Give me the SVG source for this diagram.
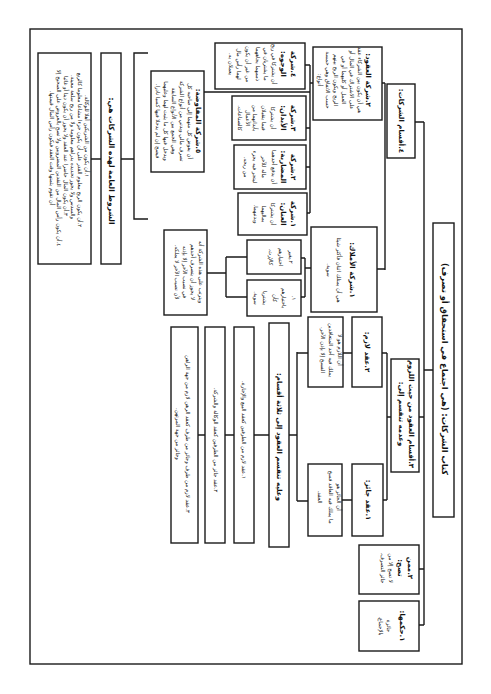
<svg xmlns="http://www.w3.org/2000/svg" width="491" height="694" viewBox="0 0 491 694">
<style>
.b{fill:#fff;stroke:#1a1a1a;stroke-width:1.4}
.c{fill:none;stroke:#1a1a1a;stroke-width:1.4}
text{font-family:"DejaVu Sans","Noto Sans",sans-serif;fill:#111;direction:rtl;text-anchor:middle}
.t{font-size:5.4px}
.h{font-size:7px;font-weight:bold}
.H{font-size:8.3px;font-weight:bold}
</style>
<rect x="0" y="0" width="491" height="694" fill="#fff"/>
<rect x="30" y="29" width="432" height="635" fill="none" stroke="#1a1a1a" stroke-width="1.4"/>

<g id="connectors">
<path class="c" d="M424,122V625M424,370H433M415,122H424M419,417H424M419,569H424M419,625H424"/>
<path class="c" d="M387,417H391M387,353V500M382,353H387M383,500H387M343,353H352M342,500H352"/>
<path class="c" d="M297,352V501M297,353H308M297,501H308M289,435H297M254,435H269M225,435H234M198,435H205"/>
<path class="c" d="M385,83V270M382,83H385M377,269H385"/>
<path class="c" d="M310,65V213M310,83H313M305,65H310M306,128H310M306,167H310M307,213H310M204,92H310"/>
<path class="c" d="M148,53H134V219H148M121,159H134M91,159H101"/>
<path class="c" d="M305,268H311M305,258V297M301,258H305M301,297H305M226,257V297M226,257H247M226,297H247M207,273H226"/>
</g>

<g id="n-title"><rect class="b" x="433" y="223" width="21" height="294"/>
<text class="H" transform="translate(441.5,369) rotate(90)">كتاب الشركات: (هي اجتماع في استحقاق أو تصرف)</text></g>

<g id="n-aqsam-sharikat"><rect class="b" x="387" y="84" width="28" height="74"/>
<text class="h" transform="translate(399,121) rotate(90)">٤.أقسام الشركات:</text></g>

<g id="n-aqsam-uqud"><rect class="b" x="391" y="359" width="28" height="113"/>
<text class="h" transform="translate(409,414) rotate(90)"><tspan x="0" y="0">٣.أقسام العقود من حيث اللزوم</tspan><tspan x="0" y="10">وعدمه تنقسم إلى:</tspan></text></g>

<g id="n-mimman"><rect class="b" x="359" y="545" width="60" height="49"/>
<text transform="translate(408,568) rotate(90)"><tspan class="h" x="0" y="0">٢.ممن</tspan><tspan class="h" x="0" y="10">تصح:</tspan><tspan class="t" x="0" y="19">لا تصح إلا من</tspan><tspan class="t" x="0" y="27">جائز التصرف.</tspan></text></g>

<g id="n-hukm"><rect class="b" x="359" y="601" width="60" height="50"/>
<text transform="translate(400,626) rotate(90)"><tspan class="h" x="0" y="0">١.حكمها:</tspan><tspan class="t" x="0" y="13">جائزة</tspan><tspan class="t" x="0" y="21">بالإجماع.</tspan></text></g>

<g id="n-lazim"><rect class="b" x="352" y="317" width="30" height="70"/>
<text class="h" transform="translate(365,352) rotate(90)">٢.عقد لازم:</text></g>

<g id="n-jaiz"><rect class="b" x="352" y="464" width="31" height="72"/>
<text class="h" transform="translate(365.5,500) rotate(90)">١.عقد جائز:</text></g>

<g id="n-lazim-def"><rect class="b" x="308" y="317" width="35" height="70"/>
<text class="t" transform="translate(337.5,350) rotate(90)"><tspan x="0" y="0">أن اللازم هو لا</tspan><tspan x="0" y="8.5">يملك فيه أحد المتعاقدين</tspan><tspan x="0" y="17">الفسخ إلا بإذن الآخر.</tspan></text></g>

<g id="n-jaiz-def"><rect class="b" x="308" y="464" width="34" height="72"/>
<text class="t" transform="translate(337,497) rotate(90)"><tspan x="0" y="0">أن الجائز هو</tspan><tspan x="0" y="8.5">ما يملك فيه العاقد فسخ</tspan><tspan x="0" y="19">العقد.</tspan></text></g>

<g id="n-alayhi"><rect class="b" x="269" y="323" width="20" height="224"/>
<text class="h" transform="translate(277,437) rotate(90)">وعليه تنقسم العقود إلى ثلاثة أقسام:</text></g>

<g id="n-q1"><rect class="b" x="234" y="327" width="20" height="216"/>
<text class="t" transform="translate(242,430) rotate(90)">١.عقد لازم من الطرفين كعقد البيع والإجارة.</text></g>

<g id="n-q2"><rect class="b" x="205" y="327" width="20" height="216"/>
<text class="t" transform="translate(213.5,440) rotate(90)">٢.عقد جائز من الطرفين كعقد الوكالة والشركة.</text></g>

<g id="n-q3"><rect class="b" x="171" y="327" width="27" height="216"/>
<text class="t" transform="translate(186,434) rotate(90)"><tspan x="0" y="0">٣.عقد لازم من طرف وجائز من طرف كعقد الرهن لازم من جهة الراهن</tspan><tspan x="0" y="10">وجائز من جهة المرتهن.</tspan></text></g>

<g id="n-uqud"><rect class="b" x="313" y="47" width="69" height="73"/>
<text transform="translate(366,80) rotate(90)"><tspan class="h" x="0" y="0">٢.شركة العقود:</tspan><tspan class="t" x="0" y="8">هي أن يكون بين الشركاء عقد</tspan><tspan class="t" x="0" y="16">على الاشتراك في المال أو</tspan><tspan class="t" x="0" y="24.5">العمل أو كليهما أو في</tspan><tspan class="t" x="0" y="32.5">الربح ويكون الربح بينهم</tspan><tspan class="t" x="0" y="40.5">حسب الاتفاق وهي خمسة</tspan><tspan class="t" x="0" y="48.5">أنواع:</tspan></text></g>

<g id="n-amlak"><rect class="b" x="311" y="227" width="66" height="85"/>
<text transform="translate(350,270) rotate(90)"><tspan class="h" x="0" y="0">١.شركة الأملاك:</tspan><tspan class="t" x="0" y="13">هي أن يمتلك اثنان فأكثر شيئا</tspan><tspan class="t" x="0" y="23">سوية.</tspan></text></g>

<g id="n-wujuh"><rect class="b" x="215" y="43" width="90" height="46"/>
<text transform="translate(291,64) rotate(90)"><tspan class="h" x="0" y="0">٤.شركة</tspan><tspan class="h" x="0" y="10">الوجوه:</tspan><tspan class="t" x="0" y="19.5">أن يشتركا في ربح</tspan><tspan class="t" x="0" y="27.5">ما يشتريان في</tspan><tspan class="t" x="0" y="35.5">ذممهما بجاههما</tspan><tspan class="t" x="0" y="45">من غير أن يكون</tspan><tspan class="t" x="0" y="54.5">لهما رأس مال</tspan><tspan class="t" x="0" y="62.5">يعملان به.</tspan></text></g>

<g id="n-abdan"><rect class="b" x="232" y="96" width="74" height="44"/>
<text transform="translate(291,118) rotate(90)"><tspan class="h" x="0" y="0">٣.شركة</tspan><tspan class="h" x="0" y="10">الأبدان:</tspan><tspan class="t" x="0" y="20">أن يشتركا</tspan><tspan class="t" x="0" y="29">فيما يتقبلان</tspan><tspan class="t" x="0" y="38">بأبدانهما من</tspan><tspan class="t" x="0" y="45.5">الأعمال</tspan><tspan class="t" x="0" y="53.5">كالصناعات.</tspan></text></g>

<g id="n-mudaraba"><rect class="b" x="234" y="145" width="72" height="44"/>
<text transform="translate(291,167) rotate(90)"><tspan class="h" x="0" y="0">٢.شركة</tspan><tspan class="h" x="0" y="10">المضاربة:</tspan><tspan class="t" x="0" y="19">أن يدفع أحدهما</tspan><tspan class="t" x="0" y="29">ماله للآخر</tspan><tspan class="t" x="0" y="38">ليتجر فيه بجزء</tspan><tspan class="t" x="0" y="47">من ربحه.</tspan></text></g>

<g id="n-inan"><rect class="b" x="238" y="193" width="69" height="42"/>
<text transform="translate(291,214) rotate(90)"><tspan class="h" x="0" y="0">١.شركة</tspan><tspan class="h" x="0" y="10">العنان:</tspan><tspan class="t" x="0" y="20">أن يشتركا</tspan><tspan class="t" x="0" y="29">بماليهما</tspan><tspan class="t" x="0" y="37">وبدنيهما.</tspan></text></g>

<g id="n-mufawada"><rect class="b" x="151" y="71" width="53" height="101"/>
<text transform="translate(196,121) rotate(90)"><tspan class="h" x="0" y="0">٥.شركة المفاوضة:</tspan><tspan class="t" x="0" y="8">أن يفوض كل منهما إلى صاحبه كل</tspan><tspan class="t" x="0" y="16">تصرف مالي وبدني من أنواع الشركة</tspan><tspan class="t" x="0" y="24.5">وهي الجمع بين الأنواع السابقة</tspan><tspan class="t" x="0" y="32.5">ويدخل فيها كل ما يثبت لهما وعليهما</tspan><tspan class="t" x="0" y="40.5">فيصح إن لم يدخلا فيها كسبا نادرا.</tspan></text></g>

<g id="n-shurut-head"><rect class="b" x="101" y="53" width="20" height="211"/>
<text class="h" transform="translate(109,161) rotate(90)" style="font-size:7.5px">الشروط العامة لهذه الشركات هي:</text></g>

<g id="n-shurut"><rect class="b" x="38" y="53" width="53" height="211"/>
<text class="t" transform="translate(84.5,0) rotate(90)"><tspan x="136" y="0">١.أن يكون من الشريكين أهلا للوكالة.</tspan><tspan x="150" y="7">٢.أن يكون الربح معلوم القدر على أن يكون جزءا مشاعا معلوما كالربع</tspan><tspan x="147" y="14">والسدس ولا يجوز تحديده بدراهم معلومة ولا من ربح سلعة معينة.</tspan><tspan x="146" y="21">٣.أن يكون المال حاضرا عند العقد ولا يجوز أن يكون دينا أو غائبا</tspan><tspan x="158" y="28">٤.أن يكون رأس المال من النقدين المضروبين ولا تصح بالعروض على الصحيح إلا</tspan><tspan x="148" y="35">أن تقوم بثمنها وقت العقد فيكون رأس المال قيمتها.</tspan></text></g>

<g id="n-amlak-2"><rect class="b" x="247" y="240" width="54" height="34"/>
<text class="t" transform="translate(288.5,257) rotate(90)"><tspan x="0" y="0">٢.بغير</tspan><tspan x="0" y="10">اختيارهم</tspan><tspan x="0" y="20">كالإرث.</tspan></text></g>

<g id="n-amlak-1"><rect class="b" x="247" y="280" width="54" height="36"/>
<text class="t" transform="translate(291.5,298) rotate(90)"><tspan x="0" y="0">١.</tspan><tspan x="0" y="9.5">باختيارهم</tspan><tspan x="0" y="19">كأن</tspan><tspan x="0" y="28.5">يشتريا</tspan><tspan x="0" y="38">سوية.</tspan></text></g>

<g id="n-yatarattab"><rect class="b" x="164" y="230" width="43" height="85"/>
<text class="t" transform="translate(198.5,272) rotate(90)"><tspan x="0" y="0">ويترتب على هذه الشركة أنه</tspan><tspan x="0" y="8">لا يجوز أن يتصرف أحدهم</tspan><tspan x="0" y="16">في نصيب الآخر إلا بإذنه</tspan><tspan x="0" y="24">لأن نصيب الآخر لا يملكه.</tspan></text></g>
</svg>
